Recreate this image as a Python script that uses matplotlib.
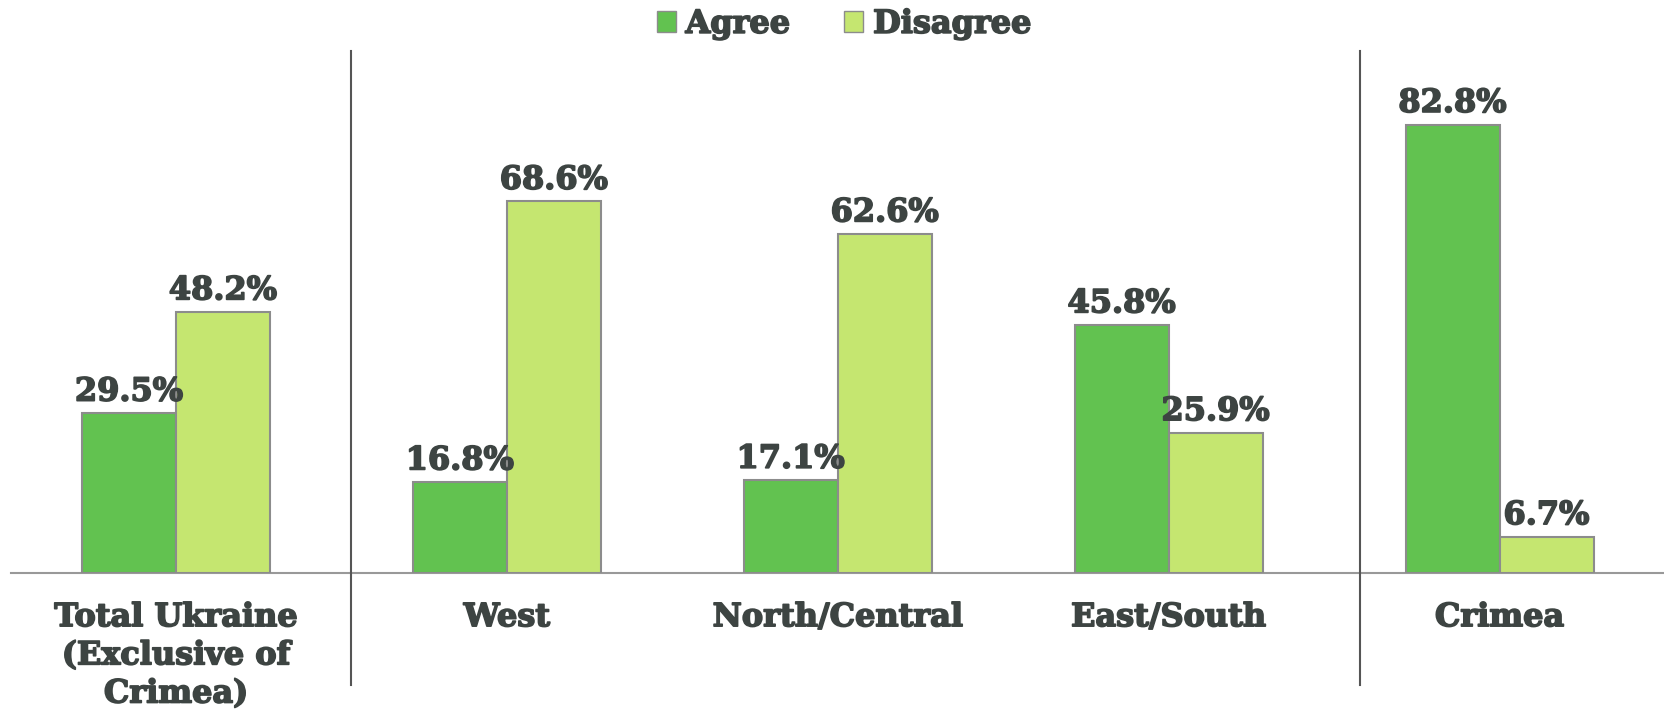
import matplotlib
matplotlib.use("Agg")
import matplotlib.pyplot as plt
import matplotlib.patheffects as pe
import numpy as np
from matplotlib.patches import Patch

categories = ["Total Ukraine\n(Exclusive of\nCrimea)", "West", "North/Central", "East/South", "Crimea"]
agree = [29.5, 16.8, 17.1, 45.8, 82.8]
disagree = [48.2, 68.6, 62.6, 25.9, 6.7]
series_names = ["Agree", "Disagree"]

c_agree = "#62C250"
c_dis = "#C5E670"
edge = "#8C8C8C"
txt = "#3D4442"
font = "DejaVu Serif"
fs = 23
heavy = [pe.withStroke(linewidth=1.2, foreground=txt)]

plt.rcParams['font.family'] = [font]

fig = plt.figure(figsize=(16.65, 7.1), dpi=100)
ax = fig.add_axes([0.0064, 0.193, 0.9936, 0.7628])

x = np.arange(len(categories))
w = 0.284
b1 = ax.bar(x - w/2, agree, w, color=c_agree, edgecolor=edge, linewidth=1.5, label=series_names[0], zorder=3)
b2 = ax.bar(x + w/2, disagree, w, color=c_dis, edgecolor=edge, linewidth=1.5, label=series_names[1], zorder=3)

for bars, vals in ((b1, agree), (b2, disagree)):
    for r, v in zip(bars, vals):
        ax.annotate(f"{v:.1f}%", (r.get_x() + r.get_width()/2, v), xytext=(0, 4),
                    textcoords="offset points", ha="center", va="bottom",
                    fontsize=fs, fontweight="bold", color=txt, path_effects=heavy)

ax.set_xlim(-0.5, len(categories) - 0.5)
ax.set_ylim(0, 100)
for s in ["top", "right", "left"]:
    ax.spines[s].set_visible(False)
ax.spines["bottom"].set_color("#999999")
ax.spines["bottom"].set_linewidth(1.5)
ax.set_yticks([])
ax.set_xticks(x)
ax.set_xticklabels(categories, fontsize=fs, fontweight="bold", color=txt, linespacing=1.3)
for t in ax.get_xticklabels():
    t.set_path_effects(heavy)
ax.tick_params(axis="x", length=0, pad=21)

for sx in (0.530, 3.578):
    ax.plot([sx, sx], [-20.7, 96.4], color="#555555", linewidth=1.5, clip_on=False, zorder=4)

handles = [Patch(facecolor=c_agree, edgecolor=edge), Patch(facecolor=c_dis, edgecolor=edge)]
leg = fig.legend(handles, series_names, loc="upper center", bbox_to_anchor=(0.507, 1.028), ncol=2,
                 frameon=False, handlelength=0.6, handleheight=0.6, handletextpad=0.3, columnspacing=1.7,
                 prop={"family": font, "weight": "bold", "size": fs}, labelcolor=txt)
for t in leg.get_texts():
    t.set_path_effects(heavy)

fig.savefig("out.png", dpi=100)
